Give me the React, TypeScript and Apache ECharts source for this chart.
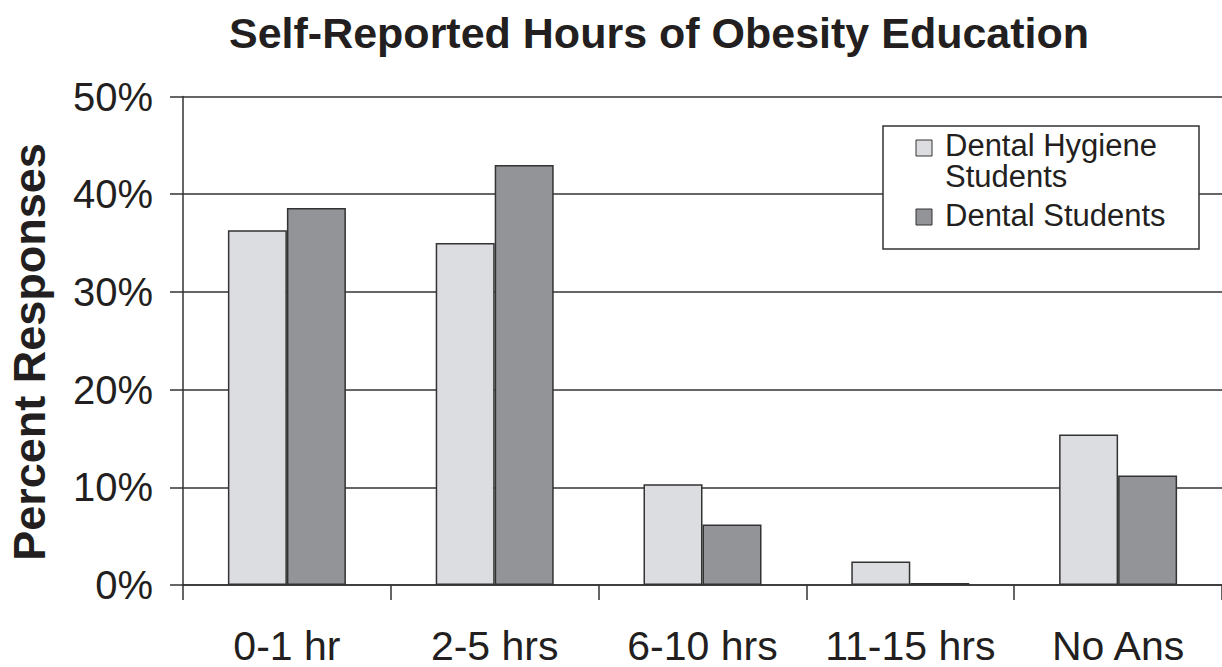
import React, { useEffect, useRef } from "react";
import * as echarts from "echarts";

const categories = ["0-1 hr", "2-5 hrs", "6-10 hrs", "11-15 hrs", "No Ans"];
const hygieneValues = [36.3, 35.0, 10.3, 2.4, 15.4];
const dentalValues = [38.6, 43.0, 6.2, 0.2, 11.2];
const seriesNames = ["Dental Hygiene Students", "Dental Students"];
const legendLines = [["Dental Hygiene", "Students"], ["Dental Students"]];
const yTicks = { min: 0, max: 50, interval: 10 };

const HYG_COLOR = "#dcdde0";
const DEN_COLOR = "#939497";
const LINE = "#333333";
const TEXT = "#231f20";
const FONT = "'Liberation Sans', Arial, sans-serif";

export default function App() {
  const ref = useRef<HTMLDivElement>(null);
  useEffect(() => {
    if (!ref.current) return;
    const chart = echarts.init(ref.current, null, { renderer: "svg" });
    const legendText = (txt: string, y: number) => ({
      type: "text",
      x: 945,
      y,
      style: {
        text: txt,
        fontFamily: FONT,
        fontSize: 31,
        lineHeight: 31,
        fill: TEXT,
        verticalAlign: "top",
        align: "left",
      },
      z: 11,
    });
    chart.setOption({
      animation: false,
      backgroundColor: "#ffffff",
      title: {
        text: "Self-Reported Hours of Obesity Education",
        left: 654,
        textAlign: "center",
        top: 6,
        textStyle: { fontFamily: FONT, fontSize: 43, fontWeight: "bold", color: TEXT },
      },
      grid: {
        left: 183,
        right: 0,
        top: 96.5,
        bottom: 82,
        containLabel: false,
        outerBoundsMode: "none",
      },
      xAxis: {
        type: "category",
        data: categories,
        axisLine: { show: true, lineStyle: { color: LINE, width: 1.5 } },
        axisTick: { show: true, interval: 0, length: 15, alignWithLabel: false, lineStyle: { color: LINE, width: 1.5 } },
        axisLabel: { interval: 0, margin: 40, fontFamily: FONT, fontSize: 41, color: TEXT },
      },
      yAxis: {
        type: "value",
        min: yTicks.min,
        max: yTicks.max,
        interval: yTicks.interval,
        axisLine: { show: true, lineStyle: { color: LINE, width: 1.5 } },
        axisTick: { show: true, length: 13, lineStyle: { color: LINE, width: 1.5 } },
        axisLabel: { formatter: "{value}%", margin: 30, fontFamily: FONT, fontSize: 40, color: TEXT },
        splitLine: { show: true, lineStyle: { color: LINE, width: 1.5 } },
      },
      series: [
        {
          name: seriesNames[0],
          type: "bar",
          data: hygieneValues,
          barWidth: 59,
          barGap: "0%",
          itemStyle: { color: HYG_COLOR, borderColor: LINE, borderWidth: 1.5 },
        },
        {
          name: seriesNames[1],
          type: "bar",
          data: dentalValues,
          barWidth: 59,
          barGap: "0%",
          itemStyle: { color: DEN_COLOR, borderColor: LINE, borderWidth: 1.5 },
        },
      ],
      graphic: [
        {
          type: "text",
          x: 29,
          y: 352,
          rotation: Math.PI / 2,
          style: {
            text: "Percent Responses",
            fontFamily: FONT,
            fontSize: 45,
            fontWeight: "bold",
            fill: TEXT,
            align: "center",
            verticalAlign: "middle",
          },
        },
        {
          type: "rect",
          shape: { x: 883, y: 126, width: 316, height: 123 },
          style: { fill: "#ffffff", stroke: LINE, lineWidth: 1.5 },
          z: 10,
        },
        {
          type: "rect",
          shape: { x: 916, y: 140, width: 16, height: 16 },
          style: { fill: HYG_COLOR, stroke: LINE, lineWidth: 1 },
          z: 11,
        },
        {
          type: "rect",
          shape: { x: 916, y: 209, width: 16, height: 16 },
          style: { fill: DEN_COLOR, stroke: LINE, lineWidth: 1 },
          z: 11,
        },
        legendText(legendLines[0][0], 130),
        legendText(legendLines[0][1], 161),
        legendText(legendLines[1][0], 200),
      ],
    });
    return () => chart.dispose();
  }, []);
  return (
    <div
      ref={ref}
      style={{ position: "absolute", left: 0, top: 0, width: 1222, height: 667 }}
    />
  );
}
